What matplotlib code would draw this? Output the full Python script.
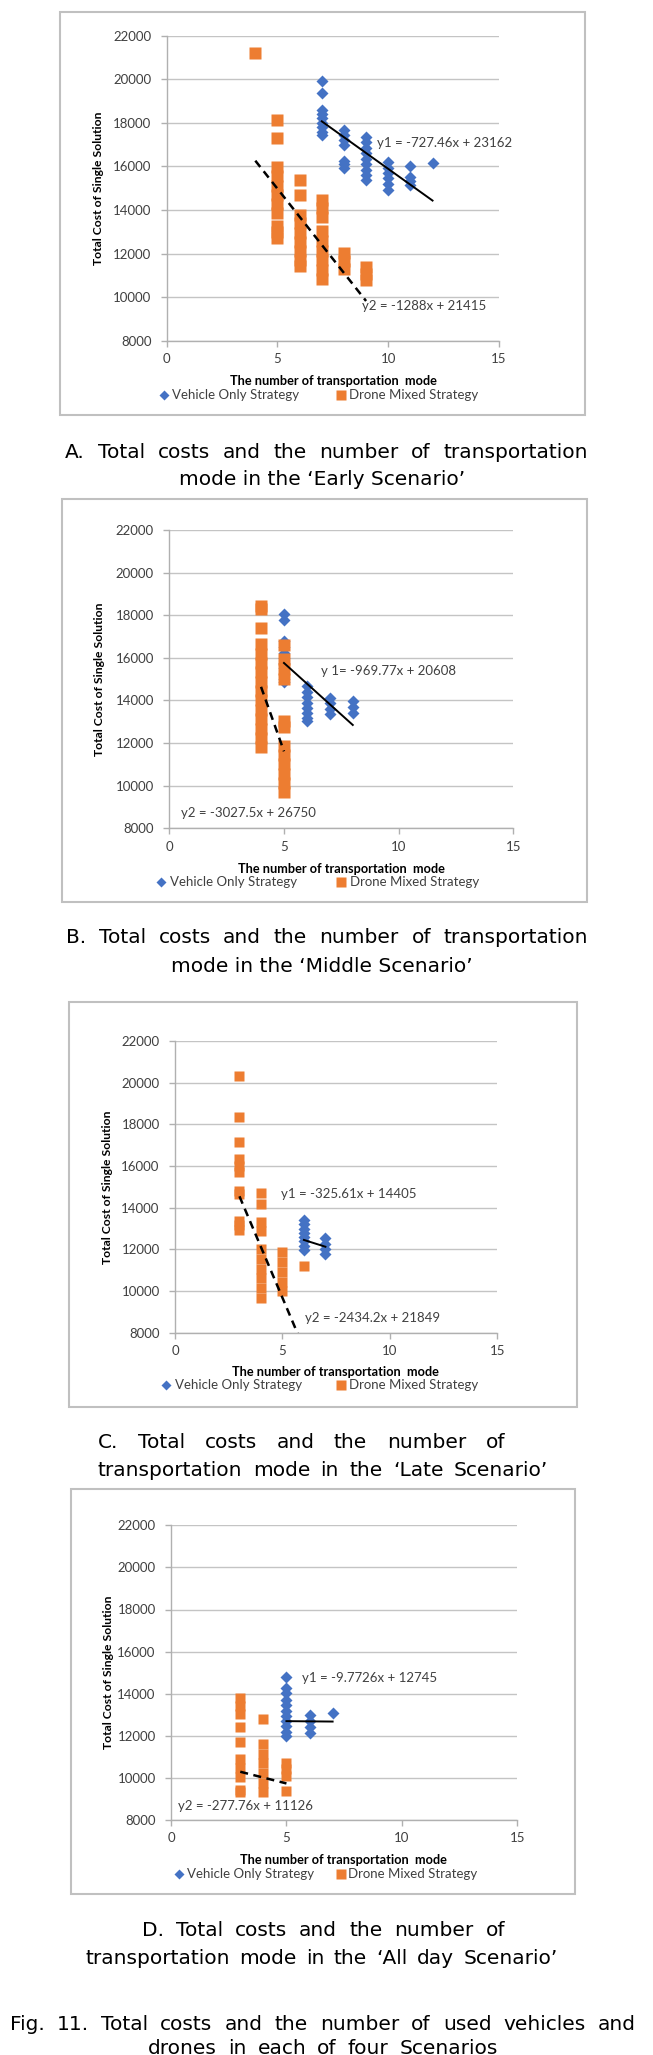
import matplotlib
matplotlib.use('Agg')
import matplotlib.pyplot as plt
from matplotlib.lines import Line2D
from matplotlib.patches import Rectangle

W, H = 653, 2055
BLUE = '#4472C4'
ORANGE = '#ED7D31'
plt.rcParams['font.family'] = ['Lato', 'DejaVu Sans']

# ---- data: number of transportation modes -> total cost of each solution ----
EARLY_VEHICLE = {
    7: [19907, 19360, 18590, 18400, 18200, 18000, 17800, 17600, 17440],
    8: [17670, 17450, 17220, 16980, 16250, 16100, 15950],
    9: [17360, 17100, 16850, 16600, 16350, 16100, 15850, 15600, 15380],
    10: [16190, 15950, 15700, 15450, 15200, 14920],
    11: [16000, 15530, 15340, 15150],
    12: [16170],
}
EARLY_DRONE = {
    4: [21200],
    5: [18130, 17320, 15960, 15540, 15120, 14700, 14290, 13880, 13280, 13000, 12730],
    6: [15380, 14700, 13780, 13380, 12960, 12540, 12120, 11700, 11430],
    7: [14470, 14080, 13680, 13020, 12580, 12140, 11700, 11260, 10820],
    8: [12030, 11650, 11280],
    9: [11370, 11080, 10790],
}
MIDDLE_VEHICLE = {
    5: [18080, 17780, 16770, 16500, 16250, 16000, 15750, 15510, 15000, 14850],
    6: [14660, 14400, 14150, 13900, 13650, 13400, 13200, 13030],
    7: [14130, 13870, 13620, 13360],
    8: [13980, 13700, 13430],
}
MIDDLE_DRONE = {
    4: [18430, 18290, 17385, 16640, 16200, 15760, 15320, 14880, 14440, 14000,
        13560, 13120, 12680, 12240, 11800],
    5: [16600, 15930, 15470, 15000, 13040, 12740, 11860, 11430, 11000, 10560,
        10130, 9690],
}
LATE_VEHICLE = {
    6: [13410, 13200, 12990, 12790, 12590, 12380, 12180, 11970],
    7: [12530, 12270, 12020, 11760],
}
LATE_DRONE = {
    3: [20330, 18340, 17170, 16330, 16000, 15710, 14800, 14650, 13380, 13150, 12930],
    4: [14720, 14190, 13310, 12880, 12010, 11540, 11080, 10610, 10150, 9680],
    5: [11860, 11390, 10920, 10450, 9980],
    6: [11200],
}
ALLDAY_VEHICLE = {
    5: [14780, 14250, 14050, 13700, 13450, 13200, 12950, 12700, 12450, 12200, 12000],
    6: [12990, 12700, 12410, 12120],
    7: [13100],
}
ALLDAY_DRONE = {
    3: [13810, 13420, 13040, 12400, 11700, 10920, 10490, 10060, 9420, 9340],
    4: [12790, 11610, 11150, 10690, 10230, 9770, 9310],
    5: [10710, 10400, 10090, 9400],
}
# trend lines (slope, intercept) and their labels
EARLY_FIT = [(-727.46, 23162), (-1288, 21415)]
MIDDLE_FIT = [(-969.77, 20608), (-3027.5, 26750)]
LATE_FIT = [(-325.61, 14405), (-2434.2, 21849)]
ALLDAY_FIT = [(-9.7726, 12745), (-277.76, 11126)]
EARLY_EQ = ['y1 = -727.46x + 23162', 'y2 = -1288x + 21415']
MIDDLE_EQ = ['y 1= -969.77x + 20608', 'y2 = -3027.5x + 26750']
LATE_EQ = ['y1 = -325.61x + 14405', 'y2 = -2434.2x + 21849']
ALLDAY_EQ = ['y1 = -9.7726x + 12745', 'y2 = -277.76x + 11126']

X_TICKS = [0, 5, 10, 15]
Y_TICKS = [8000, 10000, 12000, 14000, 16000, 18000, 20000, 22000]

PANELS = [
    dict(veh=EARLY_VEHICLE, drone=EARLY_DRONE, fit=EARLY_FIT, eq=EARLY_EQ,
         eq_pos=[(9.48, 17090), (8.8, 9600)],
         axes=(166.7, 35.7, 499, 340.7), box=(60, 12, 585, 415), sq=8.3,
         ylab_x=98, xlab=(333, 380.7), leg=(164, 172, 341, 349, 395)),
    dict(veh=MIDDLE_VEHICLE, drone=MIDDLE_DRONE, fit=MIDDLE_FIT, eq=MIDDLE_EQ,
         eq_pos=[(6.62, 15400), (0.51, 8735)],
         axes=(169.3, 530, 513.3, 828.3), box=(62, 499, 587, 902), sq=8.0,
         ylab_x=100, xlab=(341.5, 869), leg=(161, 170, 341, 350, 881.7)),
    dict(veh=LATE_VEHICLE, drone=LATE_DRONE, fit=LATE_FIT, eq=LATE_EQ,
         eq_pos=[(4.92, 14640), (6.05, 8720)],
         axes=(175, 1041, 497.3, 1332.7), box=(69, 1002, 577, 1407), sq=7.6,
         ylab_x=107, xlab=(335.5, 1372), leg=(166, 175, 341, 349, 1385)),
    dict(veh=ALLDAY_VEHICLE, drone=ALLDAY_DRONE, fit=ALLDAY_FIT, eq=ALLDAY_EQ,
         eq_pos=[(5.66, 14730), (0.32, 8680)],
         axes=(171, 1525.3, 517.3, 1820), box=(71, 1489, 575, 1894), sq=7.3,
         ylab_x=109, xlab=(343.8, 1860), leg=(179, 187, 341, 348, 1874)),
]

CAPTIONS = [
    ('A. Total costs and the number of transportation', 65, 588, 452, True),
    ('mode in the ‘Early Scenario’', 322, None, 480, False),
    ('B. Total costs and the number of transportation', 66, 588, 938, True),
    ('mode in the ‘Middle Scenario’', 322, None, 967, False),
    ('C. Total costs and the number of', 98, 505, 1442, True),
    ('transportation mode in the ‘Late Scenario’', 98, 548, 1470, True),
    ('D. Total costs and the number of', 142, 505, 1930, True),
    ('transportation mode in the ‘All day Scenario’', 85, 558, 1959, True),
    ('Fig. 11. Total costs and the number of used vehicles and', 10, 636, 2024, True),
    ('drones in each of four Scenarios', 148, 498, 2048, True),
]
CAP_SIZE = 14.5


def fx(x):
    return x / W


def fy(y):
    return 1 - y / H


fig = plt.figure(figsize=(W / 100, H / 100), dpi=100)

for p in PANELS:
    l, t, r, b = p['axes']
    ax = fig.add_axes([fx(l), fy(b), (r - l) / W, (b - t) / H])
    for x, ys in p['veh'].items():
        ax.plot([x] * len(ys), ys, 'D', ms=5.8, color=BLUE, mec='none', zorder=3)
    for x, ys in p['drone'].items():
        ax.plot([x] * len(ys), ys, 's', ms=p['sq'], color=ORANGE, mec='none', zorder=4)

    # trend lines over each series' x range
    for (m, c), series, style in [(p['fit'][0], p['veh'], '-'), (p['fit'][1], p['drone'], '--')]:
        x0, x1 = min(series), max(series)
        if style == '-':
            ax.plot([x0, x1], [m * x0 + c, m * x1 + c], color='black', lw=1.4, zorder=5)
        else:
            ax.plot([x0, x1], [m * x0 + c, m * x1 + c], color='black', lw=1.8,
                    ls=(0, (3.2, 2.2)), zorder=5)
    for txt, (ex, ey) in zip(p['eq'], p['eq_pos']):
        ax.text(ex, ey, txt, fontsize=9.5, color='#404040', va='center', ha='left', zorder=6)

    ax.set_xlim(0, 15)
    ax.set_ylim(8000, 22000)
    ax.set_xticks(X_TICKS)
    ax.set_yticks(Y_TICKS)
    ax.grid(axis='y', color='#c4c4c4', lw=1)
    ax.set_axisbelow(True)
    for s in ['top', 'right']:
        ax.spines[s].set_visible(False)
    for s in ['left', 'bottom']:
        ax.spines[s].set_color('#b0b0b0')
        ax.spines[s].set_linewidth(1)
    ax.tick_params(colors='#b0b0b0', labelcolor='#404040', labelsize=9.5, length=4, width=1)
    ax.tick_params(axis='y', pad=7)
    ax.tick_params(axis='x', pad=5)

    fig.text(fx(p['ylab_x']), fy((t + b) / 2), 'Total Cost of Single Solution',
             rotation=90, ha='center', va='center', fontsize=8.7, fontweight='bold')
    fig.text(fx(p['xlab'][0]), fy(p['xlab'][1]), 'The number of transportation  mode',
             ha='center', va='center', fontsize=9.2, fontweight='bold')

    dx, dtx, sx, stx, ly = p['leg']
    fig.add_artist(Line2D([fx(dx)], [fy(ly)], marker='D', ms=4.6, color=BLUE, mec='none',
                          ls='none', transform=fig.transFigure))
    fig.text(fx(dtx), fy(ly), 'Vehicle Only Strategy', ha='left', va='center',
             fontsize=9.5, color='#404040')
    fig.add_artist(Line2D([fx(sx)], [fy(ly)], marker='s', ms=6.5, color=ORANGE, mec='none',
                          ls='none', transform=fig.transFigure))
    fig.text(fx(stx), fy(ly), 'Drone Mixed Strategy', ha='left', va='center',
             fontsize=9.5, color='#404040')

    bl, bt, br, bb = p['box']
    fig.add_artist(Rectangle((fx(bl), fy(bb)), (br - bl) / W, (bb - bt) / H, fill=False,
                             edgecolor='#c0c0c0', lw=1.5, transform=fig.transFigure))

# captions below each panel (justified like the paper layout)
renderer = fig.canvas.get_renderer()
cap_kw = dict(va='center', family='DejaVu Sans', color='black')
for text, x0, x1, y, justify in CAPTIONS:
    if not justify:
        fig.text(fx(x0), fy(y), text, ha='center', fontsize=CAP_SIZE, **cap_kw)
        continue
    words = text.split(' ')
    size = CAP_SIZE
    while True:
        objs = [fig.text(0, fy(y), w, ha='left', fontsize=size, **cap_kw) for w in words]
        widths = [o.get_window_extent(renderer).width for o in objs]
        gap = (x1 - x0 - sum(widths)) / (len(words) - 1)
        if gap >= 5 or size <= 10:
            break
        for o in objs:
            o.remove()
        size -= 0.5
    pos = x0
    for o, w in zip(objs, widths):
        o.set_x(fx(pos))
        pos += w + gap

fig.savefig('out.png', dpi=100)
